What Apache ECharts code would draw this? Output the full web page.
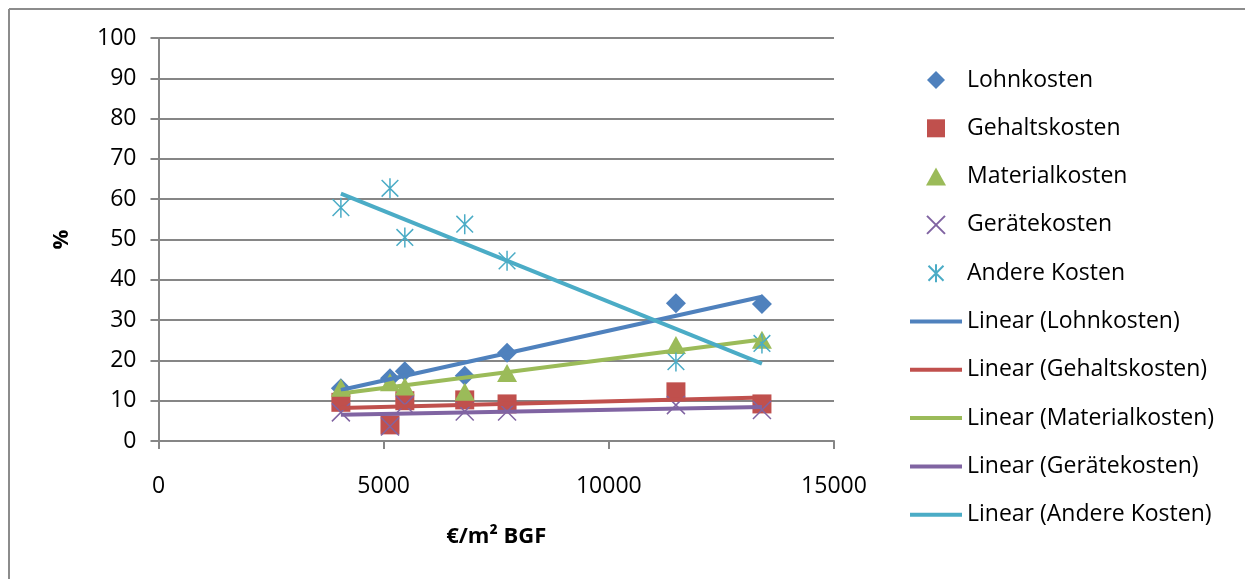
<!DOCTYPE html>
<html>
<head>
<meta charset="utf-8">
<script src="https://cdn.jsdelivr.net/npm/echarts@6/dist/echarts.min.js"></script>
<style>
  html, body { margin: 0; padding: 0; background: #fff; }
  #chart { width: 1245px; height: 579px; }
</style>
</head>
<body>
<div id="chart"></div>
<script>
// Kostenanteile (%) über Baukosten je m² BGF
const xValues       = [4050, 5140, 5470, 6800, 7740, 11490, 13400];
const lohnkosten    = [13.1, 15.6, 17.3, 16.2, 21.9, 34.2, 34.0];
const gehaltskosten = [9.6, 4.0, 10.0, 10.2, 9.2, 12.2, 9.2];
const materialkosten= [13.2, 14.6, 13.5, 12.2, 16.9, 23.8, 25.1];
const geraetekosten = [7.1, 3.6, 9.0, 7.3, 7.3, 8.9, 7.7];
const andereKosten  = [57.9, 62.7, 50.5, 53.8, 44.7, 19.7, 24.2];

const seriesNames = ['Lohnkosten', 'Gehaltskosten', 'Materialkosten', 'Gerätekosten', 'Andere Kosten'];
const seriesValues = [lohnkosten, gehaltskosten, materialkosten, geraetekosten, andereKosten];
const colors = ['#4F81BD', '#C0504D', '#9BBB59', '#8064A2', '#4BACC6'];
const xTicks = [0, 5000, 10000, 15000];

const FONT = '"Open Sans", "DejaVu Sans", sans-serif';
const GRAY = '#868686';

// Least-squares trend line across the observed x range
function trend(xs, ys) {
  const n = xs.length;
  const mx = xs.reduce((a, b) => a + b, 0) / n;
  const my = ys.reduce((a, b) => a + b, 0) / n;
  let sxy = 0, sxx = 0;
  for (let i = 0; i < n; i++) {
    sxy += (xs[i] - mx) * (ys[i] - my);
    sxx += (xs[i] - mx) * (xs[i] - mx);
  }
  const slope = sxy / sxx;
  const x0 = Math.min(...xs), x1 = Math.max(...xs);
  return [[x0, my + slope * (x0 - mx)], [x1, my + slope * (x1 - mx)]];
}

// marker per series; legend icons keep a square box
const markers = [
  { symbol: 'diamond', size: [20, 20], style: { color: colors[0], opacity: 1 },
    icon: 'path://M5,0L10,5L5,10L0,5Z' },
  { symbol: 'rect', size: [19, 19], style: { color: colors[1], opacity: 1 },
    icon: 'path://M0,0L10,0L10,10L0,10Z' },
  { symbol: 'triangle', size: [20, 18], style: { color: colors[2], opacity: 1 },
    icon: 'path://M5,0L10,9L0,9Z' },
  { symbol: 'path://M0,0L10,10M0,10L10,0', size: [18, 18],
    style: { color: 'transparent', borderColor: colors[3], borderWidth: 1.5, opacity: 1 } },
  { symbol: 'path://M0,0L10,10M0,10L10,0M5,-1L5,11', size: [20, 20],
    style: { color: 'transparent', borderColor: colors[4], borderWidth: 1.5, opacity: 1 } }
];

const series = [];
const legendData = [];
seriesNames.forEach((name, i) => {
  series.push({
    name: name,
    type: 'scatter',
    symbol: markers[i].symbol,
    symbolSize: markers[i].size,
    symbolKeepAspect: true,
    itemStyle: markers[i].style,
    data: xValues.map((x, j) => [x, seriesValues[i][j]]),
    z: 2
  });
  legendData.push(markers[i].icon ? { name: name, icon: markers[i].icon } : { name: name });
});
seriesNames.forEach((name, i) => {
  const label = 'Linear (' + name + ')';
  series.push({
    name: label,
    type: 'line',
    symbol: 'none',
    lineStyle: { color: colors[i], width: 4 },
    itemStyle: { color: colors[i] },
    data: trend(xValues, seriesValues[i]),
    z: 3
  });
  legendData.push({ name: label, icon: 'path://M0,0L52,0L52,4L0,4Z' });
});

const chart = echarts.init(document.getElementById('chart'), null, { renderer: 'canvas' });
chart.setOption({
  animation: false,
  backgroundColor: '#fff',
  textStyle: { fontFamily: FONT },
  grid: { left: 158.5, right: 411, top: 38, bottom: 138, containLabel: false },
  xAxis: {
    type: 'value',
    min: xTicks[0], max: xTicks[xTicks.length - 1], interval: xTicks[1] - xTicks[0],
    name: '€/m² BGF',
    nameLocation: 'middle',
    nameGap: 85,
    nameTextStyle: { fontFamily: FONT, fontSize: 22, fontWeight: 'bold', color: '#000' },
    axisLine: { show: true, lineStyle: { color: GRAY, width: 2 } },
    axisTick: { show: true, length: 8, lineStyle: { color: GRAY, width: 2 } },
    axisLabel: { fontFamily: FONT, fontSize: 23, color: '#000', margin: 34,
                 formatter: v => String(v) },
    splitLine: { show: false }
  },
  yAxis: {
    type: 'value',
    min: 0, max: 100, interval: 10,
    name: '%',
    nameLocation: 'middle',
    nameGap: 86,
    nameRotate: 90,
    nameTextStyle: { fontFamily: FONT, fontSize: 22, fontWeight: 'bold', color: '#000' },
    axisLine: { show: true, lineStyle: { color: GRAY, width: 2 } },
    axisTick: { show: true, length: 8, lineStyle: { color: GRAY, width: 2 } },
    axisLabel: { fontFamily: FONT, fontSize: 23, color: '#000', margin: 22 },
    splitLine: { show: true, lineStyle: { color: GRAY, width: 2 } }
  },
  legend: {
    orient: 'vertical',
    left: 905,
    top: 62,
    itemWidth: 52,
    itemHeight: 18,
    itemGap: 22.3,
    symbolKeepAspect: true,
    textStyle: { fontFamily: FONT, fontSize: 23, color: '#000', lineHeight: 26 },
    data: legendData
  },
  graphic: [
    { type: 'line', shape: { x1: 9, y1: 9, x2: 1245, y2: 9 }, style: { stroke: '#8c8c8c', lineWidth: 2 } },
    { type: 'line', shape: { x1: 9, y1: 9, x2: 9, y2: 579 }, style: { stroke: '#8c8c8c', lineWidth: 2 } }
  ],
  series: series
});
</script>
</body>
</html>
